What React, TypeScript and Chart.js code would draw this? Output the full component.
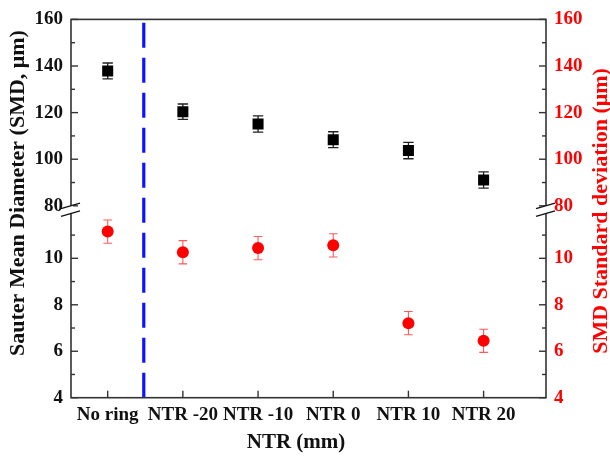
import React, { useEffect, useRef } from 'react';
import { Chart, registerables } from 'chart.js';

Chart.register(...registerables);

// ---- data ----
const categories = ['No ring', 'NTR -20', 'NTR -10', 'NTR 0', 'NTR 10', 'NTR 20'];
const smdValues = [137.9, 120.4, 115.1, 108.4, 103.7, 91.1];
const smdErrors = [3.4, 3.3, 3.5, 3.4, 3.5, 3.5];
const sdValues = [11.15, 10.26, 10.44, 10.56, 7.21, 6.45];
const sdErrors = [0.5, 0.5, 0.5, 0.5, 0.5, 0.5];
const upperTicks = [80, 100, 120, 140, 160];
const upperMinor = [90, 110, 130, 150];
const lowerTicks = [4, 6, 8, 10];
const lowerMinor = [5, 7, 9, 11];
const dividerX = 0.48;
const leftTitle = 'Sauter Mean Diameter (SMD, μm)';
const rightTitle = 'SMD Standard deviation (μm)';
const xTitle = 'NTR (mm)';

const FONT = 'Liberation Serif';
const tickFont = { family: FONT, size: 19, weight: 'bold' as const };

const decorPlugin = {
  id: 'decor',
  beforeDatasetsDraw(chart: any) {
    const ctx = chart.ctx;
    const xs = chart.scales.x;
    const area = chart.chartArea;
    // divider
    ctx.save();
    ctx.strokeStyle = '#0a14ff';
    ctx.lineWidth = 3.2;
    ctx.setLineDash([25, 10]);
    const dx = xs.getPixelForValue(dividerX);
    ctx.beginPath();
    ctx.moveTo(dx, area.top + 3.3);
    ctx.lineTo(dx, area.bottom);
    ctx.stroke();
    ctx.restore();

    const drawErr = (vals: number[], errs: number[], ys: any, color: string, lw: number, cap: number) => {
      ctx.save();
      ctx.strokeStyle = color;
      ctx.lineWidth = lw;
      vals.forEach((v, i) => {
        const x = xs.getPixelForValue(i);
        const y1 = ys.getPixelForValue(v + errs[i]);
        const y2 = ys.getPixelForValue(v - errs[i]);
        ctx.beginPath();
        ctx.moveTo(x, y1);
        ctx.lineTo(x, y2);
        ctx.moveTo(x - cap, y1);
        ctx.lineTo(x + cap, y1);
        ctx.moveTo(x - cap, y2);
        ctx.lineTo(x + cap, y2);
        ctx.stroke();
      });
      ctx.restore();
    };
    drawErr(smdValues, smdErrors, chart.scales.yUp, '#222', 1.3, 5.2);
    drawErr(sdValues, sdErrors, chart.scales.yLowR, '#ff5a5a', 1.1, 4.3);
  },
  afterDraw(chart: any) {
    const ctx = chart.ctx;
    const a = chart.chartArea;
    const xs = chart.scales.x;
    ctx.save();
    ctx.strokeStyle = '#333';
    ctx.lineWidth = 1.6;
    ctx.strokeRect(a.left, a.top, a.right - a.left, a.bottom - a.top);

    const tick = (x1: number, y1: number, x2: number, y2: number) => {
      ctx.beginPath();
      ctx.moveTo(x1, y1);
      ctx.lineTo(x2, y2);
      ctx.stroke();
    };
    ctx.lineWidth = 1.4;
    const doY = (s: any, side: 'left' | 'right', major: number[], minor: number[]) => {
      const x0 = side === 'left' ? a.left : a.right;
      const dir = side === 'left' ? 1 : -1;
      major.forEach((v) => {
        const p = s.getPixelForValue(v);
        tick(x0, p, x0 + dir * 7, p);
      });
      minor.forEach((v) => {
        const p = s.getPixelForValue(v);
        tick(x0, p, x0 + dir * 4, p);
      });
    };
    doY(chart.scales.yUp, 'left', upperTicks, upperMinor);
    doY(chart.scales.yLow, 'left', lowerTicks, lowerMinor);
    doY(chart.scales.yUpR, 'right', upperTicks, upperMinor);
    doY(chart.scales.yLowR, 'right', lowerTicks, lowerMinor);
    categories.forEach((_, i) => {
      const p = xs.getPixelForValue(i);
      tick(p, a.bottom, p, a.bottom - 7);
    });

    // axis breaks
    const brk = (x: number, b: number) => {
      ctx.save();
      ctx.fillStyle = '#fff';
      ctx.beginPath();
      ctx.moveTo(x - 2, b + 0.5);
      ctx.lineTo(x + 2, b - 0.6);
      ctx.lineTo(x + 2, b + 7.4);
      ctx.lineTo(x - 2, b + 8.5);
      ctx.closePath();
      ctx.fill();
      ctx.restore();
      ctx.lineWidth = 1.3;
      ctx.strokeStyle = '#111';
      tick(x - 10, b + 2.8, x + 9, b - 2.6);
      tick(x - 10, b + 10.5, x + 9, b + 5.1);
    };
    brk(a.left, chart.scales.yUp.bottom);
    brk(a.right, chart.scales.yUpR.bottom);

    // titles
    ctx.textAlign = 'center';
    ctx.textBaseline = 'middle';
    ctx.fillStyle = '#111';
    ctx.font = `bold 22px "${FONT}"`;
    ctx.save();
    ctx.translate(18.5, 193);
    ctx.rotate(-Math.PI / 2);
    ctx.fillText(leftTitle, 0, 0);
    ctx.restore();
    ctx.save();
    ctx.fillStyle = '#ff0000';
    ctx.translate(601, 211);
    ctx.rotate(-Math.PI / 2);
    ctx.fillText(rightTitle, 0, 0);
    ctx.restore();
    ctx.font = `bold 21px "${FONT}"`;
    ctx.fillText(xTitle, 296, 443);
    ctx.restore();
  },
};

function yScale(position: 'left' | 'right', upper: boolean, color: string) {
  // left boxes are placed in reverse weight order, right boxes in weight order
  const w = position === 'left' ? (upper ? 2 : 1) : (upper ? 1 : 2);
  return {
    type: 'linear' as const,
    position,
    stack: position,
    stackWeight: upper ? 188.6 : 194.1,
    weight: w,
    min: upper ? 80 : 4,
    max: upper ? 160 : 12.26,
    grid: { display: false, drawTicks: false },
    border: { display: false },
    ticks: { font: tickFont, color, padding: 8, autoSkip: false },
    afterBuildTicks: (s: any) => {
      s.ticks = (upper ? upperTicks : lowerTicks).map((v) => ({ value: v }));
    },
    afterFit: (s: any) => {
      s.width = position === 'left' ? 71 : 64;
    },
  };
}

export default function App() {
  const ref = useRef<HTMLCanvasElement | null>(null);
  useEffect(() => {
    if (!ref.current) return;
    const chart = new Chart(ref.current, {
      type: 'scatter',
      data: {
        datasets: [
          {
            label: 'SMD',
            data: smdValues.map((v, i) => ({ x: i, y: v })),
            yAxisID: 'yUp',
            pointStyle: 'rect',
            pointRadius: 7.8,
            backgroundColor: '#000',
            borderColor: '#000',
            borderWidth: 0,
          },
          {
            label: 'SMD SD',
            data: sdValues.map((v, i) => ({ x: i, y: v })),
            yAxisID: 'yLowR',
            pointStyle: 'circle',
            pointRadius: 6,
            backgroundColor: '#ff0000',
            borderColor: '#ff0000',
            borderWidth: 0,
          },
        ],
      },
      options: {
        animation: false,
        responsive: false,
        layout: { padding: { top: 15, left: 0, right: 0, bottom: 0 } },
        plugins: { legend: { display: false }, tooltip: { enabled: false } },
        scales: {
          x: {
            type: 'linear',
            position: 'bottom',
            min: -0.488,
            max: 5.83,
            grid: { display: false, drawTicks: false },
            border: { display: false },
            ticks: {
              font: tickFont,
              color: '#111',
              padding: 6,
              autoSkip: false,
              maxRotation: 0,
              callback: (v: any) => categories[v] ?? '',
            },
            afterBuildTicks: (s: any) => {
              s.ticks = categories.map((_, i) => ({ value: i }));
            },
            afterFit: (s: any) => {
              s.height = 63.3;
            },
          },
          yLow: yScale('left', false, '#111'),
          yUp: yScale('left', true, '#111'),
          yLowR: yScale('right', false, '#ff0000'),
          yUpR: yScale('right', true, '#ff0000'),
        } as any,
      },
      plugins: [decorPlugin],
    });
    return () => chart.destroy();
  }, []);
  return (
    <div style={{ position: 'absolute', left: 0, top: 0, width: 610, height: 461, background: '#fff' }}>
      <canvas ref={ref} width={610} height={461} style={{ display: 'block' }} />
    </div>
  );
}
